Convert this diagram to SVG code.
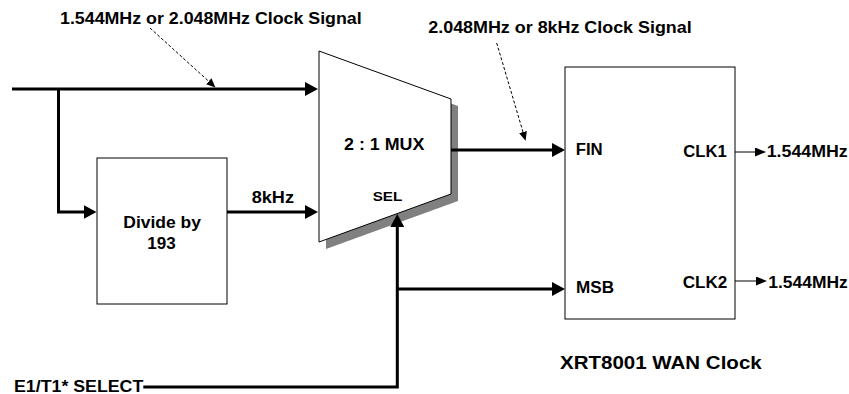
<svg xmlns="http://www.w3.org/2000/svg" width="849" height="394" viewBox="0 0 849 394">
<style>
text{font-family:"Liberation Sans",Arial,sans-serif;font-weight:bold;fill:#000}
.t16{font-size:16px}
.t12{font-size:12px}
.box{fill:#fff;stroke:#000;stroke-width:1}
.thick{fill:none;stroke:#000;stroke-width:3}
.thin{fill:none;stroke:#000;stroke-width:1}
.dash{fill:none;stroke:#000;stroke-width:1;stroke-dasharray:3,2}
</style>
<defs>
<marker id="big" markerUnits="userSpaceOnUse" markerWidth="14" markerHeight="14" refX="1" refY="7" orient="auto">
<path d="M0,0 L13,7 L0,14 z" fill="#000"/>
</marker>
<marker id="small" markerUnits="userSpaceOnUse" markerWidth="12" markerHeight="9" refX="1" refY="4.5" orient="auto">
<path d="M0,0 L11,4.5 L0,9 z" fill="#000"/>
</marker>
<marker id="dsm" markerUnits="userSpaceOnUse" markerWidth="10" markerHeight="8" refX="1" refY="4" orient="auto">
<path d="M0,0 L9,4 L0,8 z" fill="#000"/>
</marker>
</defs>
<rect width="849" height="394" fill="#fff"/>

<g id="divider">
<rect class="box" x="97" y="158" width="130" height="146"/>
<text class="t16" x="123.3" y="228" textLength="77.7" lengthAdjust="spacingAndGlyphs">Divide by</text>
<text class="t16" x="147.3" y="248.5" textLength="28.4" lengthAdjust="spacingAndGlyphs">193</text>
</g>

<g id="mux">
<polygon points="326,58 458,106 458,201 326,249" fill="#808080"/>
<polygon class="box" points="319,51 451,99 451,194 319,242"/>
<text class="t16" x="344" y="150" textLength="80.3" lengthAdjust="spacingAndGlyphs">2 : 1 MUX</text>
<text class="t12" x="372.7" y="200.5" textLength="29.6" lengthAdjust="spacingAndGlyphs">SEL</text>
</g>

<g id="wanclock">
<rect class="box" x="565" y="67" width="170" height="252"/>
<text class="t16" x="575.7" y="155" textLength="27" lengthAdjust="spacingAndGlyphs">FIN</text>
<text class="t16" x="683.3" y="157.3" textLength="43.4" lengthAdjust="spacingAndGlyphs">CLK1</text>
<text class="t16" x="576" y="293.3" textLength="38" lengthAdjust="spacingAndGlyphs">MSB</text>
<text class="t16" x="682.7" y="287.7" textLength="44.6" lengthAdjust="spacingAndGlyphs">CLK2</text>
<text class="t16" x="560" y="369" textLength="201.7" lengthAdjust="spacingAndGlyphs" style="font-size:18px">XRT8001 WAN Clock</text>
</g>

<g id="labels">
<text class="t16" x="60" y="24" textLength="301.7" lengthAdjust="spacingAndGlyphs">1.544MHz or 2.048MHz Clock Signal</text>
<text class="t16" x="428.3" y="33.3" textLength="263.4" lengthAdjust="spacingAndGlyphs">2.048MHz or 8kHz Clock Signal</text>
<text class="t16" x="251.7" y="202.7" textLength="42.3" lengthAdjust="spacingAndGlyphs">8kHz</text>
<text class="t16" x="14" y="392" textLength="129.3" lengthAdjust="spacingAndGlyphs">E1/T1* SELECT</text>
<text class="t16" x="766.7" y="157.3" textLength="81" lengthAdjust="spacingAndGlyphs">1.544MHz</text>
<text class="t16" x="768.3" y="287.7" textLength="79.4" lengthAdjust="spacingAndGlyphs">1.544MHz</text>
</g>

<g id="connectors">
<path class="thick" d="M12,89 L306,89" marker-end="url(#big)"/>
<path class="thick" d="M58.5,89 L58.5,212 L84.5,212" marker-end="url(#big)"/>
<path class="thick" d="M227,212 L306,212" marker-end="url(#big)"/>
<path class="thick" d="M451,150 L553,150" marker-end="url(#big)"/>
<path class="thick" d="M143.3,387 L397.3,387 L397.3,226" marker-end="url(#big)"/>
<path class="thick" d="M397.3,289 L553,289" marker-end="url(#big)"/>
<path class="thin" d="M735,152 L756,152" marker-end="url(#small)"/>
<path class="thin" d="M735,281 L757,281" marker-end="url(#small)"/>
<path class="dash" d="M150,28 L209.5,82" marker-end="url(#dsm)"/>
<path class="dash" d="M496.7,43 L523.3,133" marker-end="url(#dsm)"/>
</g>
</svg>
